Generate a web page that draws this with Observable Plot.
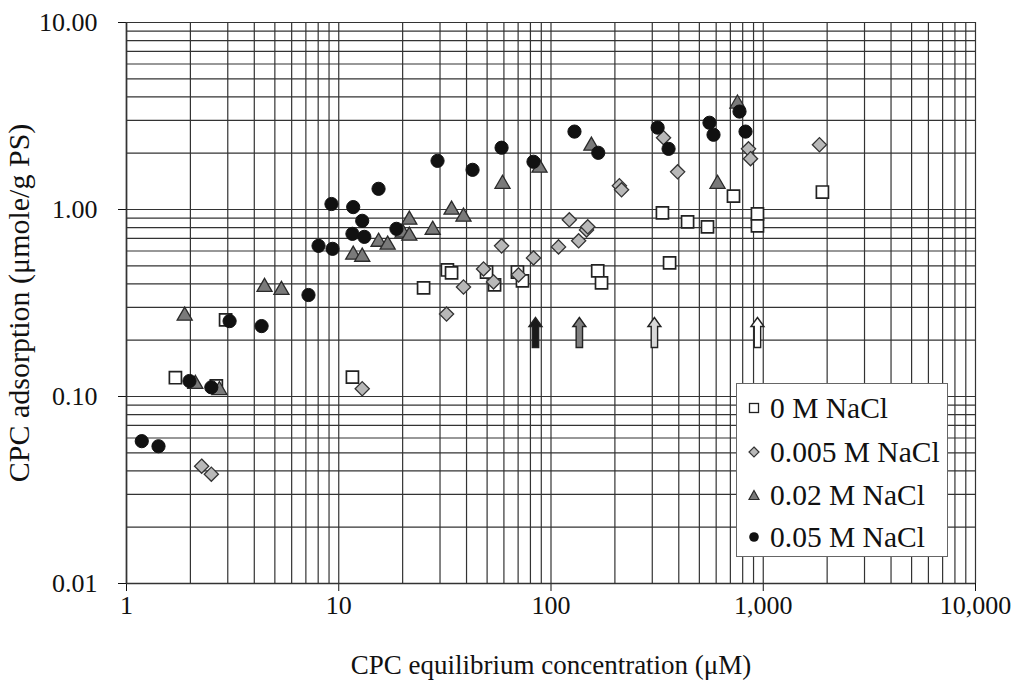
<!DOCTYPE html>
<html><head><meta charset="utf-8">
<script src="https://cdn.jsdelivr.net/npm/d3@7"></script>
<script src="https://cdn.jsdelivr.net/npm/@observablehq/plot@0.6"></script>
<style>
body{margin:0;background:#fff;}
#wrap{position:relative;width:1017px;height:684px;overflow:hidden;}
#wrap svg{font-family:"Liberation Serif",serif;}
#wrap g[aria-label="x-axis tick label"], #wrap g[aria-label="x-axis tick label"] text,
#wrap g[aria-label="y-axis tick label"], #wrap g[aria-label="y-axis tick label"] text{font-size:26px;fill:#111;}
#wrap g[aria-label="x-axis label"], #wrap g[aria-label="x-axis label"] text{font-size:27px;fill:#111;}
#wrap g[aria-label="y-axis label"], #wrap g[aria-label="y-axis label"] text{font-size:30px;fill:#111;}
#legend{position:absolute;left:736px;top:383px;width:212px;height:174px;border:1.5px solid #666;background:#fff;font-family:"Liberation Serif",serif;font-size:29.5px;color:#111;box-sizing:border-box;}
.row{position:absolute;left:11px;height:32px;display:flex;align-items:center;white-space:nowrap;}
.row svg{margin-right:10px;}
</style></head><body><div id="wrap"></div>
<script>
// Series: 0 M NaCl (open squares)
const s0x = [1.70, 2.65, 2.93, 11.6, 25.1, 32.5, 34.0, 49.7, 54.2, 69.5, 73.4, 166, 173, 335, 362, 440, 546, 724, 939, 939, 1900];
const s0y = [0.126, 0.114, 0.257, 0.127, 0.381, 0.475, 0.458, 0.463, 0.395, 0.463, 0.415, 0.470, 0.405, 0.960, 0.518, 0.859, 0.808, 1.18, 0.948, 0.818, 1.24];
// Series: 0.005 M NaCl (gray diamonds)
const s1x = [2.26, 2.51, 12.9, 32.2, 38.7, 48.1, 53.6, 58.5, 70.3, 82.7, 108.5, 122, 135, 147, 149, 210, 215, 339, 395, 852, 871, 1840];
const s1y = [0.0424, 0.0384, 0.110, 0.276, 0.385, 0.481, 0.410, 0.639, 0.447, 0.551, 0.631, 0.881, 0.680, 0.778, 0.808, 1.34, 1.275, 2.42, 1.59, 2.11, 1.87, 2.22];
// Series: 0.02 M NaCl (gray triangles)
const s2x = [1.88, 2.11, 2.74, 4.47, 5.37, 11.7, 12.9, 15.4, 17.0, 20.0, 21.5, 21.5, 27.7, 34.0, 38.7, 59.1, 88.3, 155, 609, 756];
const s2y = [0.270, 0.1165, 0.108, 0.385, 0.371, 0.572, 0.558, 0.671, 0.647, 0.750, 0.723, 0.881, 0.778, 0.996, 0.914, 1.37, 1.67, 2.19, 1.37, 3.68];
// Series: 0.05 M NaCl (black circles)
const s3x = [1.18, 1.415, 1.98, 2.51, 3.06, 4.33, 7.20, 8.03, 9.35, 9.24, 11.7, 11.6, 13.2, 12.9, 15.4, 18.7, 29.2, 42.7, 58.5, 82.7, 129, 167, 318, 358, 558, 583, 773, 825];
const s3y = [0.0577, 0.0542, 0.121, 0.112, 0.253, 0.238, 0.349, 0.639, 0.616, 1.07, 1.03, 0.741, 0.714, 0.870, 1.29, 0.788, 1.82, 1.63, 2.14, 1.80, 2.61, 2.01, 2.74, 2.11, 2.91, 2.51, 3.34, 2.61];
// Arrows (marking concentrations)
const arrowX = [84.5, 136, 307, 939];
const arrowY = [0.22, 0.22, 0.22, 0.22];
const arrowFill = ["#1a1a1a", "#808080", "#d8d8d8", "#ffffff"];

const seriesNames = ["0 M NaCl", "0.005 M NaCl", "0.02 M NaCl", "0.05 M NaCl"];
const xTickValues = [1, 10, 100, 1000, 10000];
const yTickValues = [0.01, 0.1, 1, 10];

const toRows = (xs, ys) => xs.map((x, i) => ({x, y: ys[i]}));
const d0 = toRows(s0x, s0y), d1 = toRows(s1x, s1y), d2 = toRows(s2x, s2y), d3r = toRows(s3x, s3y);
const arrows = arrowX.map((x, i) => ({x, y: arrowY[i], fill: arrowFill[i]}));

// grid positions: 1..9 in each decade
const gridOf = (lo, hi) => { const out = []; for (let e = lo; e < hi; e++) for (let m = 1; m < 10; m++) out.push(m * Math.pow(10, e)); out.push(Math.pow(10, hi)); return out; };
const xGrid = gridOf(0, 4).map(v => +v.toPrecision(6));
const yGrid = gridOf(-2, 1).map(v => +v.toPrecision(6));

const blockArrow = {
  draw(ctx) {
    const hw = 6.5, sw = 3.2, top = -15, headB = -6, bot = 15;
    ctx.moveTo(0, top);
    ctx.lineTo(hw, headB);
    ctx.lineTo(sw, headB);
    ctx.lineTo(sw, bot);
    ctx.lineTo(-sw, bot);
    ctx.lineTo(-sw, headB);
    ctx.lineTo(-hw, headB);
    ctx.closePath();
  }
};

const chart = Plot.plot({
  width: 1017,
  height: 684,
  marginLeft: 126,
  marginRight: 42,
  marginTop: 22,
  marginBottom: 101,
  style: {fontFamily: "'Liberation Serif', serif", fontSize: "26px", color: "#111", background: "#fff"},
  x: {type: "log", domain: [1, 10000]},
  y: {type: "log", domain: [0.01, 10]},
  marks: [
    Plot.gridX(xGrid, {stroke: "#333", strokeOpacity: 1, strokeWidth: 1.2}),
    Plot.gridY(yGrid, {stroke: "#333", strokeOpacity: 1, strokeWidth: 1.2}),
    Plot.axisX(xTickValues, {tickSize: 8, tickPadding: 4, tickFormat: d3.format(","),
      label: "CPC equilibrium concentration (\u03bcM)", labelAnchor: "center", labelArrow: "none", labelOffset: 90}),
    Plot.axisY(yTickValues, {tickSize: 8, tickPadding: 21, tickFormat: d3.format(".2f"),
      label: "CPC adsorption (\u03bcmole/g PS)", labelAnchor: "center", labelArrow: "none", labelOffset: 119}),
    Plot.ruleX([1], {stroke: "#333", strokeWidth: 1.6}),
    Plot.ruleY([0.01], {stroke: "#333", strokeWidth: 1.6}),
    Plot.dot(d0, {x: "x", y: "y", symbol: "square", r: 6.8, fill: "#fff", stroke: "#222", strokeWidth: 1.7}),
    Plot.dot(d1, {x: "x", y: "y", symbol: "diamond2", r: 6.4, fill: "#b8b8b8", stroke: "#333", strokeWidth: 1.3}),
    Plot.dot(d2, {x: "x", y: "y", symbol: "triangle", r: 5.6, fill: "#7a7a7a", stroke: "#2a2a2a", strokeWidth: 1.3}),
    Plot.dot(d3r, {x: "x", y: "y", symbol: "circle", r: 6.6, fill: "#111", stroke: "#111", strokeWidth: 1}),
    Plot.dot(arrows, {x: "x", y: "y", symbol: blockArrow, fill: d => d.fill, stroke: "#222", strokeWidth: 1.4})
  ]
});

const wrap = document.getElementById("wrap");
wrap.appendChild(chart);

// legend overlay
const sym = [
  '<svg width="12" height="12"><rect x="1.5" y="1.5" width="9" height="9" fill="#fff" stroke="#222" stroke-width="1.3"/></svg>',
  '<svg width="12" height="12"><path d="M6 1 L11 6 L6 11 L1 6 Z" fill="#b8b8b8" stroke="#333" stroke-width="1.2"/></svg>',
  '<svg width="12" height="12"><path d="M6 1.5 L11 10.5 L1 10.5 Z" fill="#7a7a7a" stroke="#2a2a2a" stroke-width="1.2"/></svg>',
  '<svg width="12" height="12"><circle cx="6" cy="6" r="4.8" fill="#111"/></svg>'
];
const legend = document.createElement("div");
legend.id = "legend";
const rowTops = [8, 52, 95, 137];
seriesNames.forEach((name, i) => {
  const r = document.createElement("div");
  r.className = "row";
  r.style.top = rowTops[i] + "px";
  r.innerHTML = sym[i] + "<span>" + name + "</span>";
  legend.appendChild(r);
});
wrap.appendChild(legend);
</script>
</body></html>
